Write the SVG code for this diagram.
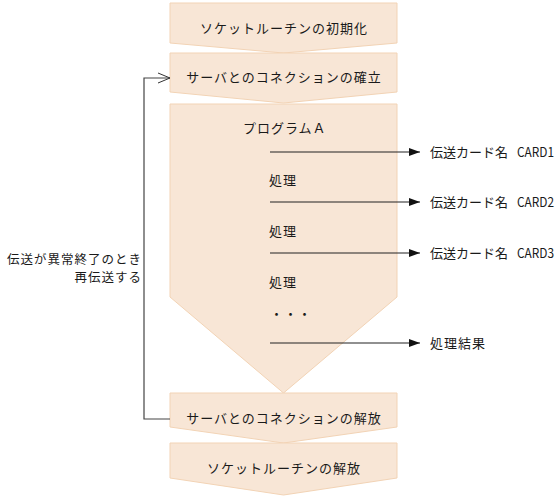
<svg xmlns="http://www.w3.org/2000/svg" width="560" height="497" viewBox="0 0 560 497">
<style>
.s{fill:#F8E6D6;stroke:#F2D3B5;stroke-width:1}
text{font-family:"Noto Sans CJK JP","Noto Sans",sans-serif;font-size:13px;fill:#1a1a1a;letter-spacing:1px}
.c{text-anchor:middle}
.r{text-anchor:end;font-size:12.5px}
.k{letter-spacing:0}
.a{stroke:#222;stroke-width:1.2;fill:none}
</style>
<defs>
<marker id="ah" markerWidth="12" markerHeight="10" refX="11" refY="5" orient="auto" markerUnits="userSpaceOnUse">
<path d="M0,1 L11,5 L0,9 Z" fill="#111"/>
</marker>
<marker id="oh" markerWidth="14" markerHeight="12" refX="13" refY="6" orient="auto" markerUnits="userSpaceOnUse">
<path d="M1,1 L13,6 L1,11" fill="none" stroke="#333" stroke-width="1"/>
</marker>
</defs>
<g id="n1"><path class="s" d="M170,3 H397 V43 L283.5,53 L170,43 Z"/><text class="c" x="284" y="33">ソケットルーチンの初期化</text></g>
<g id="n2"><path class="s" d="M170,53 H397 V92 L283.5,103 L170,92 Z"/><text class="c" x="284" y="82">サーバとのコネクションの確立</text></g>
<g id="n3"><path class="s" d="M170,104 H397 V297 L283.5,393 L170,297 Z"/>
<text x="243" y="133">プログラムＡ</text>
<text x="269" y="185">処理</text>
<text x="269" y="236">処理</text>
<text x="269" y="287">処理</text>
<text x="270" y="319" letter-spacing="5">・・・</text>
</g>
<g id="n4"><path class="s" d="M170,393 H397 V427 L283.5,443 L170,427 Z"/><text class="c" x="284" y="423">サーバとのコネクションの解放</text></g>
<g id="n5"><path class="s" d="M170,443 H397 V478 L283.5,495 L170,478 Z"/><text class="c" x="284" y="473">ソケットルーチンの解放</text></g>
<g id="labels">
<text class="k" x="430" y="157">伝送カード名 <tspan x="517" textLength="37" lengthAdjust="spacingAndGlyphs">CARD1</tspan></text>
<text class="k" x="430" y="207">伝送カード名 <tspan x="517" textLength="37" lengthAdjust="spacingAndGlyphs">CARD2</tspan></text>
<text class="k" x="430" y="258">伝送カード名 <tspan x="517" textLength="37" lengthAdjust="spacingAndGlyphs">CARD3</tspan></text>
<text x="430" y="348" letter-spacing="0.3">処理結果</text>
<text class="r" x="142" y="264" letter-spacing="0.8">伝送が異常終了のとき</text>
<text class="r" x="142" y="282" letter-spacing="0.8">再伝送する</text>
</g>
<g id="connectors">
<line class="a" x1="270" y1="152" x2="420" y2="152" marker-end="url(#ah)"/>
<line class="a" x1="270" y1="202" x2="420" y2="202" marker-end="url(#ah)"/>
<line class="a" x1="270" y1="253" x2="420" y2="253" marker-end="url(#ah)"/>
<line class="a" x1="270" y1="343" x2="420" y2="343" marker-end="url(#ah)"/>
<path d="M170,419 H144 V78 H170" fill="none" stroke="#444" stroke-width="1.2" marker-end="url(#oh)"/>
</g>
</svg>
